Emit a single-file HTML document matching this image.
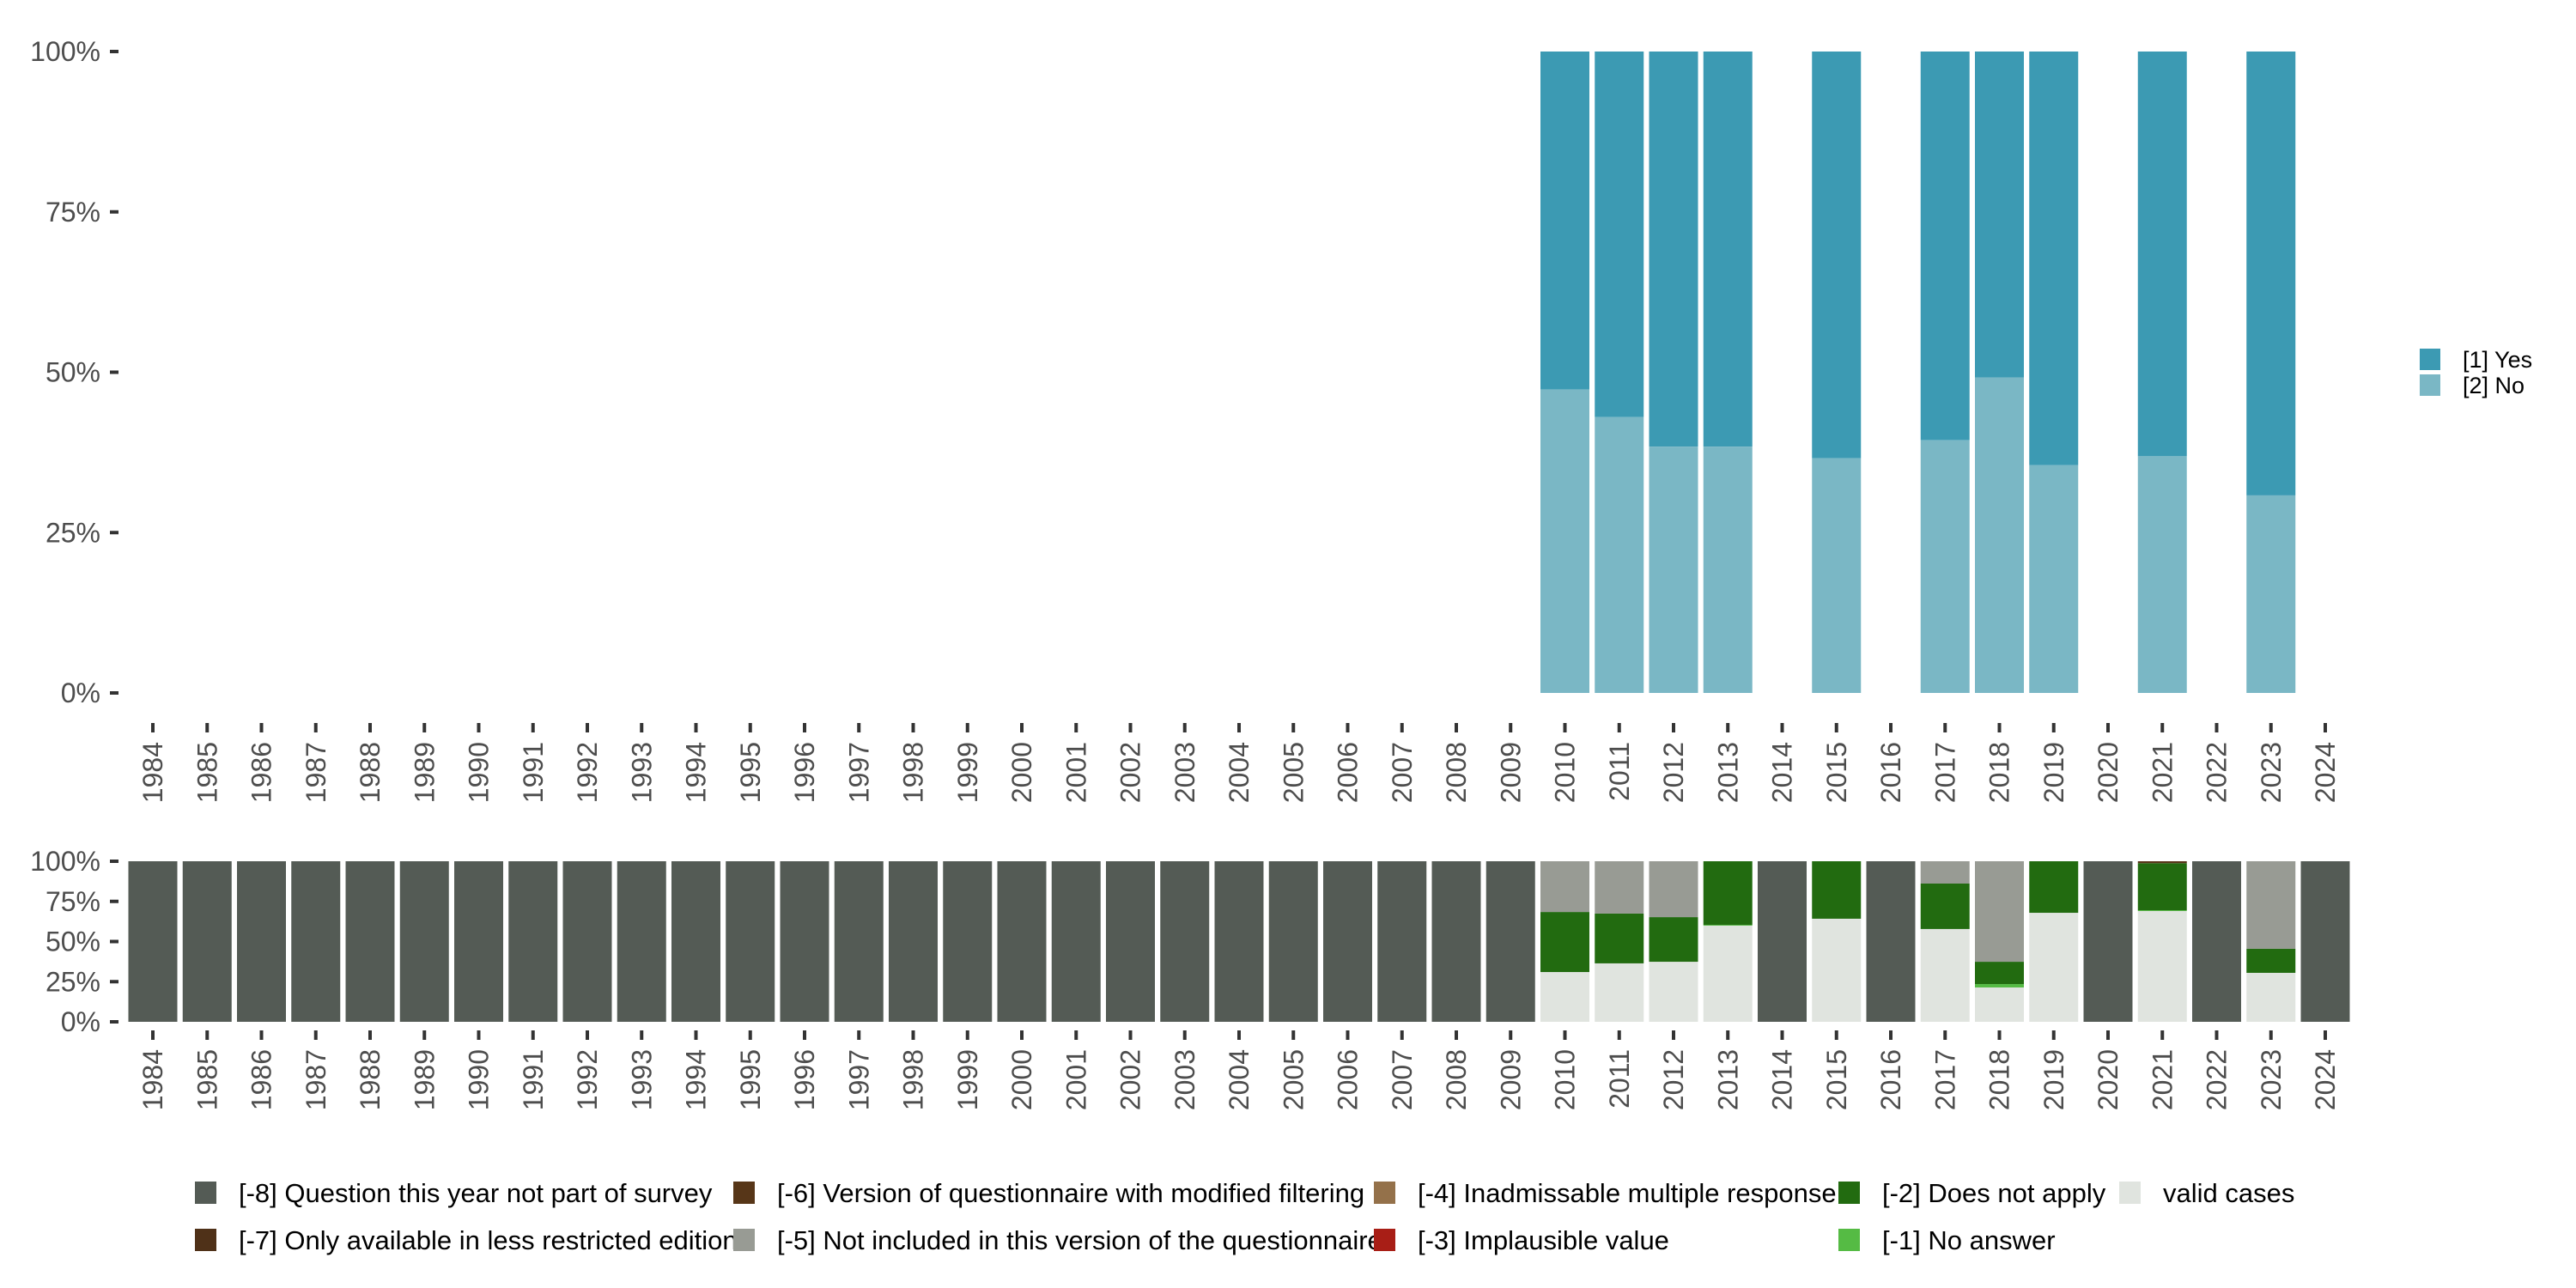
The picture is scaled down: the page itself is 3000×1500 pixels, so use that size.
<!DOCTYPE html>
<html><head><meta charset="utf-8"><style>
html,body{margin:0;padding:0;background:#fff;}
svg{display:block;font-family:"Liberation Sans",sans-serif;}
</style></head><body>
<svg id="chart" width="3000" height="1500" viewBox="0 0 3000 1500" xmlns="http://www.w3.org/2000/svg">
<g id="top"></g>
<g id="bot"></g>
<g id="leg"></g>
</svg>
<script>
const years = [];
for (let y = 1984; y <= 2024; y++) years.push(y);
const yTicks = [0, 0.25, 0.5, 0.75, 1];
const yTickLabels = ["0%", "25%", "50%", "75%", "100%"];
// top panel: share of "No" (remainder "Yes")
const topYears = [2010, 2011, 2012, 2013, 2015, 2017, 2018, 2019, 2021, 2023];
const noShare = [0.473, 0.430, 0.384, 0.384, 0.366, 0.394, 0.492, 0.355, 0.369, 0.308];
const topCats = ["[1] Yes", "[2] No"];
const topColors = ["#3c9ab3", "#7ab7c5"];
// bottom panel: surveyed years and per-category shares
const survYears = [2010, 2011, 2012, 2013, 2015, 2017, 2018, 2019, 2021, 2023];
const validShare = [0.310, 0.364, 0.374, 0.599, 0.642, 0.578, 0.214, 0.679, 0.690, 0.305];
const noAnswerShare = [0, 0, 0, 0.005, 0, 0, 0.021, 0, 0.005, 0];
const dnaShare = [0.374, 0.310, 0.278, 0.396, 0.358, 0.283, 0.139, 0.321, 0.293, 0.150];
const modFilterShare = [0, 0, 0, 0, 0, 0, 0, 0, 0.012, 0];
const notInclShare = [0.316, 0.326, 0.348, 0, 0, 0.139, 0.626, 0, 0, 0.545];
const legLabels = ["[-8] Question this year not part of survey","[-7] Only available in less restricted edition","[-6] Version of questionnaire with modified filtering","[-5] Not included in this version of the questionnaire","[-4] Inadmissable multiple response","[-3] Implausible value","[-2] Does not apply","[-1] No answer","valid cases"];
const legColors = ["#545b55","#4f3118","#573618","#989b94","#94714a","#a81e16","#226b10","#55bb44","#e0e4df"];

const NS = "http://www.w3.org/2000/svg";
function mk(parent, tag, attrs, text){const e=document.createElementNS(NS,tag);for(const k in attrs)e.setAttribute(k,attrs[k]);if(text!==undefined)e.textContent=text;parent.appendChild(e);return e;}
const x0 = 178, step = 63.25, bw = 57;
const xs = y => x0 + (y - 1984) * step;

function axes(g, yTop, yBot, labY){
  const ys = v => yBot - v * (yBot - yTop);
  yTicks.forEach((v,i)=>{
    const t=mk(g,"rect",{x:128,y:ys(v)-2,width:10,height:4,fill:"#333"});
    
    
    const l=mk(g,"text",{x:117,y:ys(v)+11,"text-anchor":"end","font-size":32,fill:"#4d4d4d"},yTickLabels[i]);
    
    
  });
  years.forEach(yr=>{
    const t=mk(g,"rect",{x:xs(yr)-2,y:labY-22,width:4,height:11,fill:"#333"});
    
    
    const l=mk(g,"text",{transform:`translate(${xs(yr)+11},${labY}) rotate(-90)`,"text-anchor":"end","font-size":32,fill:"#4d4d4d"},String(yr));
    
    
  });
  return ys;
}

// top panel
const gT=document.getElementById('top');
const ysT=axes(gT,60,807,864);
topYears.forEach((yr,i)=>{
  const x=xs(yr)-bw/2;
  const yes=mk(gT,"rect",{x:x,y:ysT(1),width:bw,height:ysT(noShare[i])-ysT(1),fill:topColors[0]});
  
  
  const no=mk(gT,"rect",{x:x,y:ysT(noShare[i]),width:bw,height:ysT(0)-ysT(noShare[i]),fill:topColors[1]});
  
  
});
topCats.forEach((c,i)=>{
  const s=mk(gT,"rect",{x:2818,y:406+i*30,width:24,height:25,fill:topColors[i]});
  
  
  const t=mk(gT,"text",{x:2868,y:428+i*30,"font-size":27,fill:"#000"},c);
  
  
});

// bottom panel
const gB=document.getElementById('bot');
const ysB=axes(gB,1003,1190,1222);
years.forEach(yr=>{
  const idx=survYears.indexOf(yr);
  const x=xs(yr)-bw/2;
  if(idx<0){
    const r=mk(gB,"rect",{x:x,y:ysB(1),width:bw,height:ysB(0)-ysB(1),fill:legColors[0]});
    
    
    return;
  }
  const segs=[[validShare[idx],legColors[8],'valid'],[noAnswerShare[idx],legColors[7],'no-answer'],[dnaShare[idx],legColors[6],'does-not-apply'],[modFilterShare[idx],legColors[2],'modified-filtering'],[notInclShare[idx],legColors[3],'not-included']];
  let cum=0;
  segs.forEach(s=>{
    if(s[0]<=0)return;
    const r=mk(gB,"rect",{x:x,y:ysB(cum+s[0]),width:bw,height:ysB(cum)-ysB(cum+s[0]),fill:s[1]});
    
    
    cum+=s[0];
  });
});

// bottom legend
const gL=document.getElementById('leg');
const colX=[227,854,1600,2141,2468];
const order=[[0,0],[1,0],[2,1],[3,1],[4,2],[5,2],[6,3],[7,3],[8,4]];
const rowOf=[0,1,0,1,0,1,0,1,0];
order.forEach(([k,c],j)=>{
  const row=rowOf[j];
  const s=mk(gL,"rect",{x:colX[c],y:1376+row*55,width:25,height:26,fill:legColors[k]});
  
  
  const t=mk(gL,"text",{x:colX[c]+51,y:1400+row*55,"font-size":31,fill:"#000"},legLabels[k]);
  
  
});
</script>
</body></html>
